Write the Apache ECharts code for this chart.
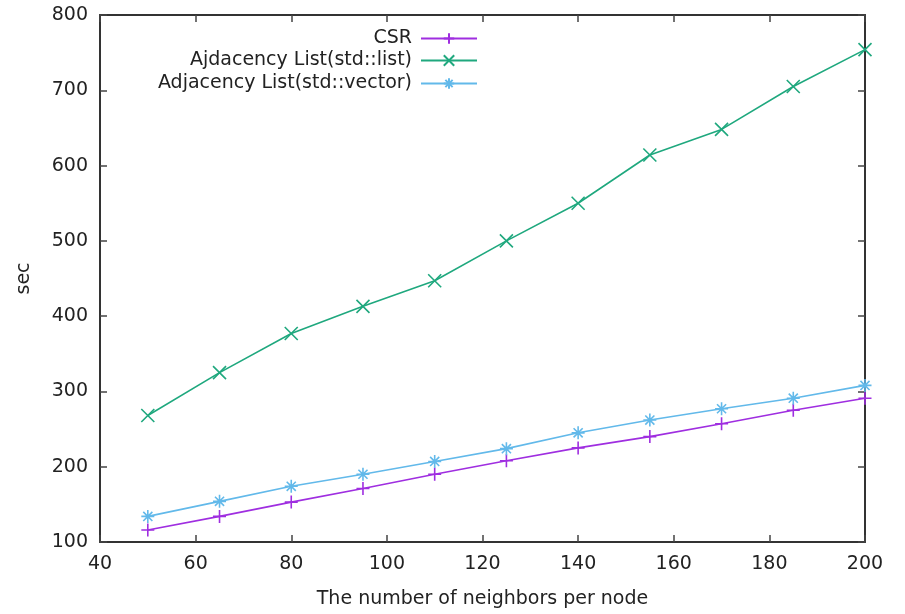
<!DOCTYPE html>
<html>
<head>
<meta charset="utf-8">
<script src="https://cdn.jsdelivr.net/npm/echarts@6/dist/echarts.min.js"></script>
<style>
  html, body { margin: 0; padding: 0; background: #fff; }
  #chart { width: 905px; height: 614px; }
</style>
</head>
<body>
<div id="chart"></div>
<script>
// neighbors per node
var neighbors = [50, 65, 80, 95, 110, 125, 140, 155, 170, 185, 200];
// seconds
var csr = [116, 134, 153, 171, 190, 208, 225, 240, 257, 275, 291];
var adjList = [268, 325, 377, 413, 447, 500, 550, 614, 648, 705, 754];
var adjVector = [134, 154, 174, 190, 207, 224, 245, 262, 277, 291, 308];

var names = ['CSR', 'Ajdacency List(std::list)', 'Adjacency List(std::vector)'];
var colors = ['#9f2ee0', '#1fa87e', '#62b9ea'];

// gnuplot point types: +, x, *
var plusPath = 'path://M0,-1L0,1M-1,0L1,0';
var crossPath = 'path://M-1,-1L1,1M-1,1L1,-1';
var starPath = 'path://M0,-1L0,1M-1,0L1,0M-0.7,-0.7L0.7,0.7M-0.7,0.7L0.7,-0.7';
var symbols = [plusPath, crossPath, starPath];

var font = 'DejaVu Sans';
var fs = 19;
var txt = '#222';

function pairs(ys) {
  return neighbors.map(function (x, i) { return [x, ys[i]]; });
}

function makeSeries(i, ys) {
  return {
    name: names[i],
    type: 'line',
    data: pairs(ys),
    symbol: symbols[i],
    symbolSize: 13,
    showSymbol: true,
    lineStyle: { color: colors[i], width: 1.6 },
    itemStyle: { color: 'rgba(0,0,0,0)', borderColor: colors[i], borderWidth: 1.6 },
    emphasis: { disabled: true },
    animation: false
  };
}

function legendRow(i, top) {
  return {
    data: [names[i]],
    orient: 'vertical',
    align: 'right',
    right: 427,
    top: top,
    itemWidth: 56,
    itemHeight: 13,
    itemGap: 0,
    padding: 0,
    selectedMode: false,
    textStyle: { fontFamily: font, fontSize: fs, color: txt, padding: [0, 4, 0, 0] }
  };
}

var axisLine = { show: true, lineStyle: { color: '#333', width: 2 } };
var tickIn = { show: true, inside: true, length: 7, lineStyle: { color: '#444', width: 1.5 } };

var option = {
  backgroundColor: '#fff',
  animation: false,
  grid: { left: 100, right: 40, top: 15, bottom: 72, show: false },
  legend: [legendRow(0, 29), legendRow(1, 51), legendRow(2, 74)],
  xAxis: [{
    type: 'value',
    min: 40, max: 200, interval: 20,
    position: 'bottom',
    name: 'The number of neighbors per node',
    nameLocation: 'middle',
    nameGap: 48,
    nameTextStyle: { fontFamily: font, fontSize: fs, color: txt },
    axisLine: axisLine,
    axisTick: tickIn,
    axisLabel: { fontFamily: font, fontSize: fs, color: txt, margin: 13 },
    splitLine: { show: false }
  }, {
    type: 'value',
    min: 40, max: 200, interval: 20,
    position: 'top',
    axisLine: axisLine,
    axisTick: tickIn,
    axisLabel: { show: false },
    splitLine: { show: false }
  }],
  yAxis: [{
    type: 'value',
    min: 100, max: 800, interval: 100,
    position: 'left',
    name: 'sec',
    nameLocation: 'middle',
    nameGap: 66,
    nameRotate: 90,
    nameTextStyle: { fontFamily: font, fontSize: fs, color: txt },
    axisLine: axisLine,
    axisTick: tickIn,
    axisLabel: { fontFamily: font, fontSize: fs, color: txt, margin: 12 },
    splitLine: { show: false }
  }, {
    type: 'value',
    min: 100, max: 800, interval: 100,
    position: 'right',
    axisLine: axisLine,
    axisTick: tickIn,
    axisLabel: { show: false },
    splitLine: { show: false }
  }],
  series: [makeSeries(0, csr), makeSeries(1, adjList), makeSeries(2, adjVector)]
};

var chart = echarts.init(document.getElementById('chart'), null, { renderer: 'canvas' });
chart.setOption(option);
</script>
</body>
</html>
